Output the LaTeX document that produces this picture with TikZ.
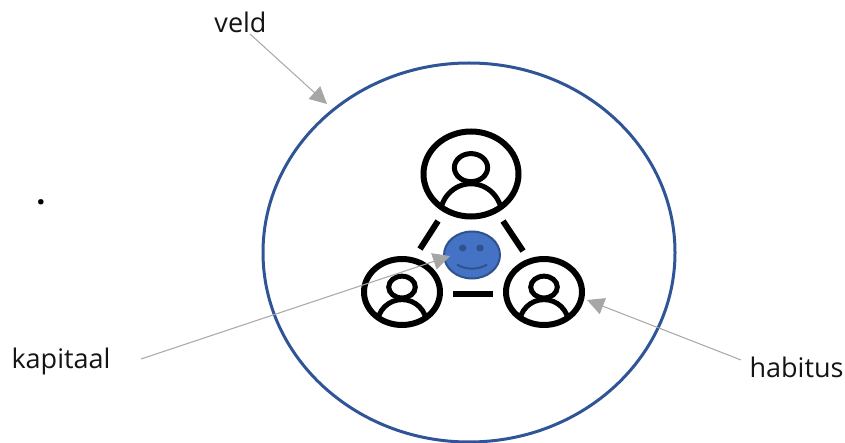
\documentclass[tikz,border=0pt]{standalone}
\usepackage{fontspec}
\setmainfont{Open Sans}
\usetikzlibrary{arrows.meta,shapes.geometric}
\definecolor{ringblue}{HTML}{2F5597}
\definecolor{faceblue}{HTML}{4472C4}
\definecolor{faceedge}{HTML}{2F528F}
\definecolor{pointer}{HTML}{A6A6A6}
\tikzset{
  x=1pt,y=-1pt,
  label text/.style={inner sep=0pt,font=\fontsize{27}{30}\selectfont,text=black!92},
  ring/.style={draw=ringblue,line width=3pt},
  iconline/.style={draw=black,line width=6pt},
  pointerline/.style={draw=pointer,line width=1pt,-{Triangle[length=17pt,width=17pt]}},
  pics/person/.style n args={2}{code={
    \begin{scope}
      \clip (0,0) ellipse [x radius=#1,y radius=#2];
      \draw[line width=5pt] (0,{0.98*#2}) ellipse [x radius={0.65*#1},y radius={0.75*#2}];
    \end{scope}
    \fill[white] (0,{-0.15*#2}) ellipse [x radius={0.35*#1},y radius={0.33*#2}];
    \draw[line width=5pt] (0,{-0.15*#2}) ellipse [x radius={0.35*#1},y radius={0.33*#2}];
    \draw[line width=6pt] (0,0) ellipse [x radius=#1,y radius=#2];
  }}
}
\begin{document}
\begin{tikzpicture}
\useasboundingbox (0,0) rectangle (845,443);
\node[ring,ellipse,inner sep=0pt,minimum width=412pt,minimum height=379pt] (field) at (469,252.5) {};

\pic at (471,174) {person={47.5}{42.5}};
\pic at (402,292) {person={38}{33}};
\pic at (544,292) {person={38}{33}};

\coordinate (la) at (438,221); \coordinate (lb) at (420,249);
\coordinate (ra) at (503,221); \coordinate (rb) at (523,251);
\coordinate (ba) at (453,294); \coordinate (bb) at (493,294);
\draw[iconline] (la) -- (lb);
\draw[iconline] (ra) -- (rb);
\draw[iconline] (ba) -- (bb);

\node[draw=faceedge,line width=2pt,fill=faceblue,ellipse,inner sep=0pt,minimum width=56pt,minimum height=47pt] (face) at (472,255) {};
\fill[faceedge] (462.7,248) ellipse [x radius=3.8,y radius=3.4];
\fill[faceedge] (480,248) ellipse [x radius=3.8,y radius=3.4];
\draw[faceedge,line width=2pt] (457,264.5) .. controls (465,270) and (479,270) .. (487,264.5);

\node[label text] (veld) at (240.5,22) {veld};
\node[label text] (kapitaal) at (61,361) {kapitaal};
\node[label text] (habitus) at (796.5,367) {habitus};
\node[inner sep=0pt,font=\bfseries\fontsize{32}{34}\selectfont] (dot) at (41,202) {.};

\coordinate (veldstart) at (250,34);
\coordinate (veldend) at (327,104);
\coordinate (kapstart) at (141,359);
\coordinate (kapend) at (450,256);
\coordinate (habstart) at (741,360);
\coordinate (habend) at (587,300);
\draw[pointerline] (veldstart) -- (veldend);
\draw[pointerline] (kapstart) -- (kapend);
\draw[pointerline] (habstart) -- (habend);
\end{tikzpicture}
\end{document}
